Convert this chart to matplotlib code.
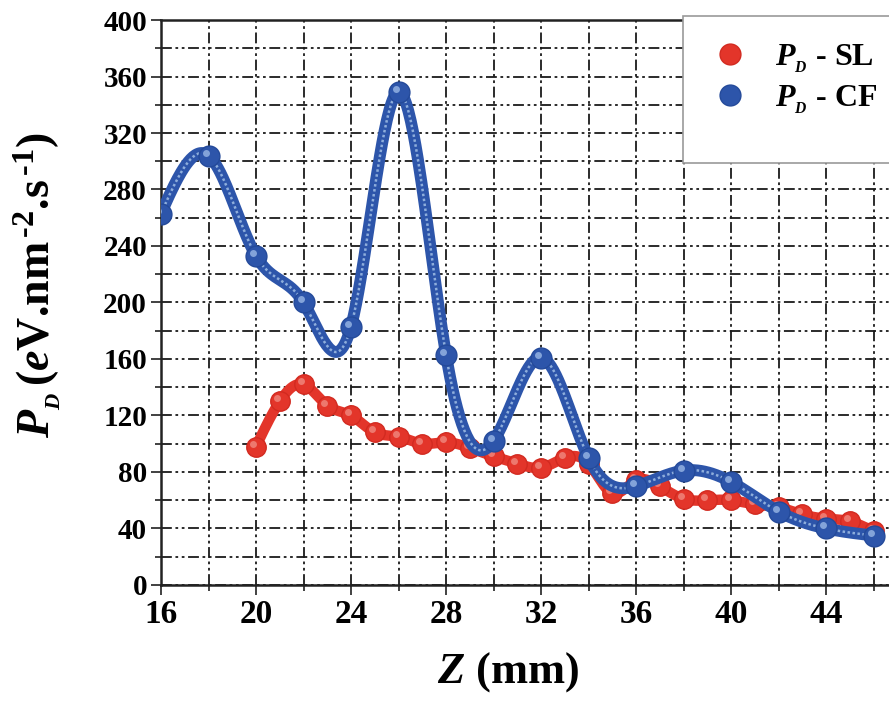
import numpy as np
import matplotlib
matplotlib.use('Agg')
import matplotlib.pyplot as plt
from matplotlib.patches import Rectangle
from matplotlib.transforms import offset_copy

plt.rcParams['font.family'] = 'Liberation Serif'
plt.rcParams['font.weight'] = 'bold'
plt.rcParams['mathtext.fontset'] = 'custom'
plt.rcParams['mathtext.rm'] = 'Liberation Serif:bold'
plt.rcParams['mathtext.it'] = 'Liberation Serif:bold:italic'
plt.rcParams['mathtext.bf'] = 'Liberation Serif:bold'

# power density along the axis, SL and CF configurations
z_sl = [20, 21, 22, 23, 24, 25, 26, 27, 28, 29, 30, 31, 32, 33,
        34, 35, 36, 37, 38, 39, 40, 41, 42, 43, 44, 45, 46]
pd_sl = [98, 130, 142, 127, 120, 108, 105, 100, 101, 97, 91, 86, 83, 90,
         86, 65, 74, 70, 61, 60, 60, 57, 55, 50, 47, 45, 38]

z_cf = [16, 18, 20, 22, 24, 26, 28, 30, 32, 34, 36, 38, 40, 42, 44, 46]
pd_cf = [263, 304, 233, 200, 183, 349, 163, 102, 161, 90, 70, 81, 73, 52, 40, 35]

red = '#e3352a'
blue = '#2d55aa'


def spline(x, y, num=600):
    # natural cubic spline, used only to draw a smooth connecting line
    x = np.asarray(x, float)
    y = np.asarray(y, float)
    n = len(x)
    h = np.diff(x)
    A = np.zeros((n, n))
    b = np.zeros(n)
    A[0, 0] = A[-1, -1] = 1
    for i in range(1, n - 1):
        A[i, i - 1] = h[i - 1]
        A[i, i] = 2 * (h[i - 1] + h[i])
        A[i, i + 1] = h[i]
        b[i] = 3 * ((y[i + 1] - y[i]) / h[i] - (y[i] - y[i - 1]) / h[i - 1])
    c = np.linalg.solve(A, b)
    bb = (y[1:] - y[:-1]) / h - h * (2 * c[:-1] + c[1:]) / 3
    d = (c[1:] - c[:-1]) / (3 * h)
    xs = np.linspace(x[0], x[-1], num)
    k = np.clip(np.searchsorted(x, xs) - 1, 0, n - 2)
    dx = xs - x[k]
    ys = y[k] + bb[k] * dx + c[k] * dx**2 + d[k] * dx**3
    return xs, ys


fig = plt.figure(figsize=(8.89, 7.02), dpi=100)
ax = fig.add_axes([0.1811, 0.1667, 0.8189, 0.8048])

ax.set_xlim(16, 46.65)
ax.set_ylim(0, 400)
ax.set_xticks(np.arange(16, 46, 4))
ax.set_xticks(np.arange(18, 47, 4), minor=True)
ax.set_yticks(np.arange(0, 401, 40))
ax.set_yticks(np.arange(20, 400, 40), minor=True)

grid_ls = (0, (6, 2, 1.5, 2, 1.5, 2))
ax.grid(True, which='both', color='#1a1a1a', lw=1.3, ls=grid_ls)
ax.set_axisbelow(True)

ax.tick_params(which='major', direction='out', length=7, width=1.3,
               color='#333333')
ax.tick_params(which='minor', direction='out', length=4, width=1.3,
               color='#333333')
ax.tick_params(axis='x', labelsize=24, pad=3)
ax.tick_params(axis='y', labelsize=21, pad=3)
for lab in ax.get_xticklabels() + ax.get_yticklabels():
    lab.set_fontweight('bold')

for side in ['left', 'bottom', 'top']:
    ax.spines[side].set_linewidth(1.8)
    ax.spines[side].set_color('#222222')
ax.spines['right'].set_visible(False)

hl = offset_copy(ax.transData, fig=fig, x=-3, y=3, units='dots')

# SL curve
xs, ys = spline(z_sl, pd_sl)
ax.plot(xs, ys, color=red, lw=7.5, solid_capstyle='round', zorder=3)
ax.plot(z_sl, pd_sl, 'o', ms=14, mfc=red, mec='#d22a20', mew=1, zorder=4)
ax.plot(z_sl, pd_sl, 'o', ms=5, mfc='#f08a80', mec='none', alpha=0.8,
        transform=hl, zorder=4)

# CF curve
xs, ys = spline(z_cf, pd_cf)
ax.plot(xs, ys, color=blue, lw=8.5, solid_capstyle='round', zorder=5)
ax.plot(xs, ys, color='#8eaedc', lw=1.8, ls=(0, (1, 1)), zorder=6)
ax.plot(z_cf, pd_cf, 'o', ms=15, mfc=blue, mec='#244a9a', mew=1, zorder=7)
ax.plot(z_cf, pd_cf, 'o', ms=5, mfc='#9ab8e6', mec='none', alpha=0.8,
        transform=hl, zorder=7)

# legend
ax.add_patch(Rectangle((0.717, 0.747), 0.3, 0.26, transform=ax.transAxes,
                       facecolor='white', edgecolor='#9a9a9a', lw=1.2,
                       zorder=8, clip_on=False))
h_sl, = ax.plot([], [], 'o', ms=15, mfc=red, mec='#d22a20')
h_cf, = ax.plot([], [], 'o', ms=15, mfc=blue, mec='#244a9a')
leg = ax.legend([h_sl, h_cf], [r'$P_{_D}$ - SL', r'$P_{_D}$ - CF'],
                loc='upper left', bbox_to_anchor=(0.725, 1.0), frameon=False,
                fontsize=23, handletextpad=0.8, labelspacing=0.25,
                borderaxespad=0.3, handlelength=1.2)
leg.set_zorder(9)

ax.set_xlabel(r'$Z$ (mm)', fontsize=32, fontweight='bold', labelpad=8)
ax.xaxis.set_label_coords(0.477, -0.115)
ax.set_ylabel(r'$P_{_D}\,$($e$V.nm$^{\,\text{-2}}$.s$^{\,\text{-1}}$)',
              fontsize=33, fontweight='bold')
ax.yaxis.set_label_coords(-0.135, 0.53)

plt.savefig('out.png', dpi=100)
plt.close()
